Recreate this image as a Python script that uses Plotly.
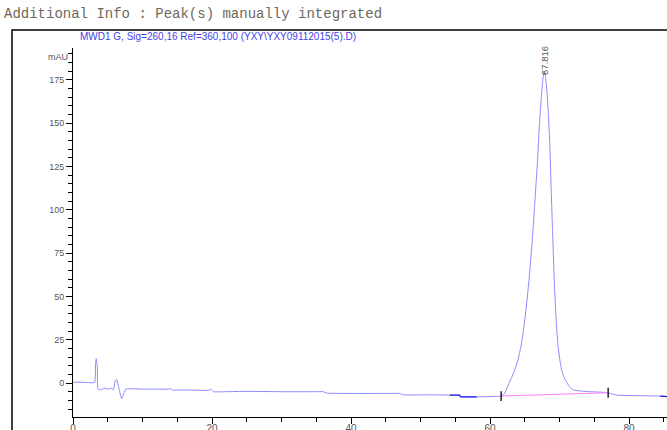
import plotly.graph_objects as go

# ---- data (time in min, signal in mAU) ----
time_min = [0.0, 1.0, 2.0, 3.1, 3.25, 3.35, 3.5, 3.6, 4.0, 4.5, 5.0, 5.5, 5.8, 6.1, 6.3, 6.6,
            7.0, 7.3, 7.6, 8.5, 10.0, 12.0, 13.8, 14.0, 14.2, 16.0, 18.0, 19.5, 19.8, 20.2,
            22.0, 25.0, 30.0, 35.0, 36.0, 36.5, 40.0, 45.0, 47.0, 47.5, 52.0, 54.2, 55.6,
            55.8, 58.1, 60.0, 61.6, 62.0, 62.4, 62.8, 63.2, 63.6, 64.0, 64.4, 64.8, 65.2,
            65.6, 66.0, 66.4, 66.8, 67.1, 67.4, 67.6, 67.8, 68.0, 68.2, 68.4, 68.6, 68.8,
            69.0, 69.2, 69.4, 69.6, 69.8, 70.1, 70.4, 70.8, 71.1, 71.5, 72.0, 73.0, 74.4,
            76.8, 77.5, 78.3, 80.0, 84.5, 85.5]
signal_mau = [0.5, 0.5, 0.3, 0.3, 12.0, 14.0, 9.0, -3.5, -4.0, -3.0, -3.5, -3.0, -4.0, 1.5, 2.0, -3.0,
              -9.0, -6.0, -3.5, -3.3, -3.5, -3.5, -3.5, -3.0, -4.0, -4.0, -4.2, -4.2, -3.5, -5.0,
              -5.0, -4.8, -5.0, -5.0, -5.0, -5.8, -6.0, -6.0, -6.0, -6.8, -6.8, -7.0, -7.0,
              -8.0, -8.0, -7.8, -7.5, -6.5, -3.5, 0.5, 4.0, 8.0, 13.0, 20.0, 30.0, 43.0,
              59.0, 78.0, 101.0, 126.0, 148.0, 166.0, 175.0, 180.0, 176.0, 168.0, 155.0, 138.0, 112.0,
              88.0, 64.0, 45.0, 31.0, 21.0, 12.0, 6.0, 2.0, 0.0, -2.5, -4.0, -4.6, -5.0,
              -5.5, -6.2, -7.0, -7.2, -7.5, -7.8]

# darker (integrated) baseline segments
dark1_t = [54.2, 55.6, 55.8, 58.1]
dark1_y = [-7.0, -7.0, -8.0, -8.0]
dark2_t = [84.5, 85.5]
dark2_y = [-7.5, -7.8]

# integration baseline of the peak and its start/end marks
base_t = [61.6, 77.0]
base_y = [-7.5, -5.6]

peak_rt = 67.816
peak_label = "67.816"
peak_label_y = 186.0

y_major = [0, 25, 50, 75, 100, 125, 150, 175]
x_major = [0, 20, 40, 60, 80]

title_text = "Additional Info : Peak(s) manually integrated"
signal_text = "MWD1 G, Sig=260,16 Ref=360,100 (YXY\\YXY09112015(5).D)"

W, H = 667, 430
ML, MR, MT, MB = 73, 0, 48, 13
pw, ph = W - ML - MR, H - MT - MB


def px_to_paper_x(px):
    return (px - ML) / pw


def px_to_paper_y(py):
    return (H - MB - py) / ph


fig = go.Figure()
fig.add_trace(go.Scatter(x=time_min, y=signal_mau, mode="lines",
                         line=dict(color="#8a8aff", width=1, shape="spline", smoothing=0.4),
                         hoverinfo="skip"))
fig.add_trace(go.Scatter(x=dark1_t, y=dark1_y, mode="lines",
                         line=dict(color="#2020e0", width=1.3), hoverinfo="skip"))
fig.add_trace(go.Scatter(x=dark2_t, y=dark2_y, mode="lines",
                         line=dict(color="#2020e0", width=1.3), hoverinfo="skip"))
fig.add_trace(go.Scatter(x=base_t, y=base_y, mode="lines",
                         line=dict(color="#ff80ff", width=1), hoverinfo="skip"))
fig.add_trace(go.Scatter(x=base_t, y=base_y, mode="markers",
                         marker=dict(symbol="line-ns", size=7,
                                     line=dict(color="#000000", width=1.3)),
                         hoverinfo="skip"))

axis_font = dict(family="Liberation Sans, Arial, sans-serif", size=9, color="#555555")

fig.update_layout(
    width=W, height=H,
    margin=dict(l=ML, r=MR, t=MT, b=MB, autoexpand=False),
    paper_bgcolor="white", plot_bgcolor="white",
    showlegend=False,
    xaxis=dict(range=[0, pw / 6.95], showgrid=False, zeroline=False, automargin=False,
               showline=True, linecolor="black", linewidth=1,
               ticks="outside", ticklen=6, tickcolor="black", tickwidth=1,
               tickvals=x_major, ticktext=[str(v) for v in x_major],
               tickfont=dict(family="Liberation Sans, Arial, sans-serif", size=10,
                             color="#555555"),
               ticklabelstandoff=-4,
               minor=dict(dtick=5, tick0=0, ticks="outside", ticklen=4,
                          tickcolor="black", tickwidth=1, showgrid=False)),
    yaxis=dict(range=[-19.6, 193.3], showgrid=False, zeroline=False, automargin=False,
               showline=True, linecolor="black", linewidth=1,
               ticks="outside", ticklen=6, tickcolor="black", tickwidth=1,
               tickvals=y_major, ticktext=[str(v) for v in y_major],
               tickfont=axis_font,
               minor=dict(dtick=5, tick0=0, ticks="outside", ticklen=4,
                          tickcolor="black", tickwidth=1, showgrid=False)),
)

# outer frame
fig.add_shape(type="rect", xref="paper", yref="paper",
              x0=px_to_paper_x(12), x1=px_to_paper_x(W + 20),
              y0=px_to_paper_y(H + 20), y1=px_to_paper_y(30),
              line=dict(color="black", width=1.5), layer="above")

fig.add_annotation(text=title_text, xref="paper", yref="paper",
                   x=px_to_paper_x(2), y=px_to_paper_y(14),
                   xanchor="left", yanchor="middle", showarrow=False,
                   font=dict(family="Liberation Mono, Courier New, monospace",
                             size=14, color="#6e685c"))
fig.add_annotation(text=signal_text, xref="paper", yref="paper",
                   x=px_to_paper_x(78), y=px_to_paper_y(36),
                   xanchor="left", yanchor="middle", showarrow=False,
                   font=dict(family="Liberation Sans, Arial, sans-serif",
                             size=10, color="#4545e6"))
fig.add_annotation(text="mAU", xref="paper", yref="y",
                   x=px_to_paper_x(70), y=188,
                   xanchor="right", yanchor="middle", showarrow=False,
                   font=axis_font)
fig.add_annotation(text=peak_label, x=peak_rt, y=peak_label_y,
                   xref="x", yref="y", textangle=-90, showarrow=False,
                   font=dict(family="Liberation Sans, Arial, sans-serif",
                             size=9.5, color="#555555"))

fig.write_html("out.html", config={"displayModeBar": False},
               post_script="document.body.style.margin='0';document.body.style.overflow='hidden';")
